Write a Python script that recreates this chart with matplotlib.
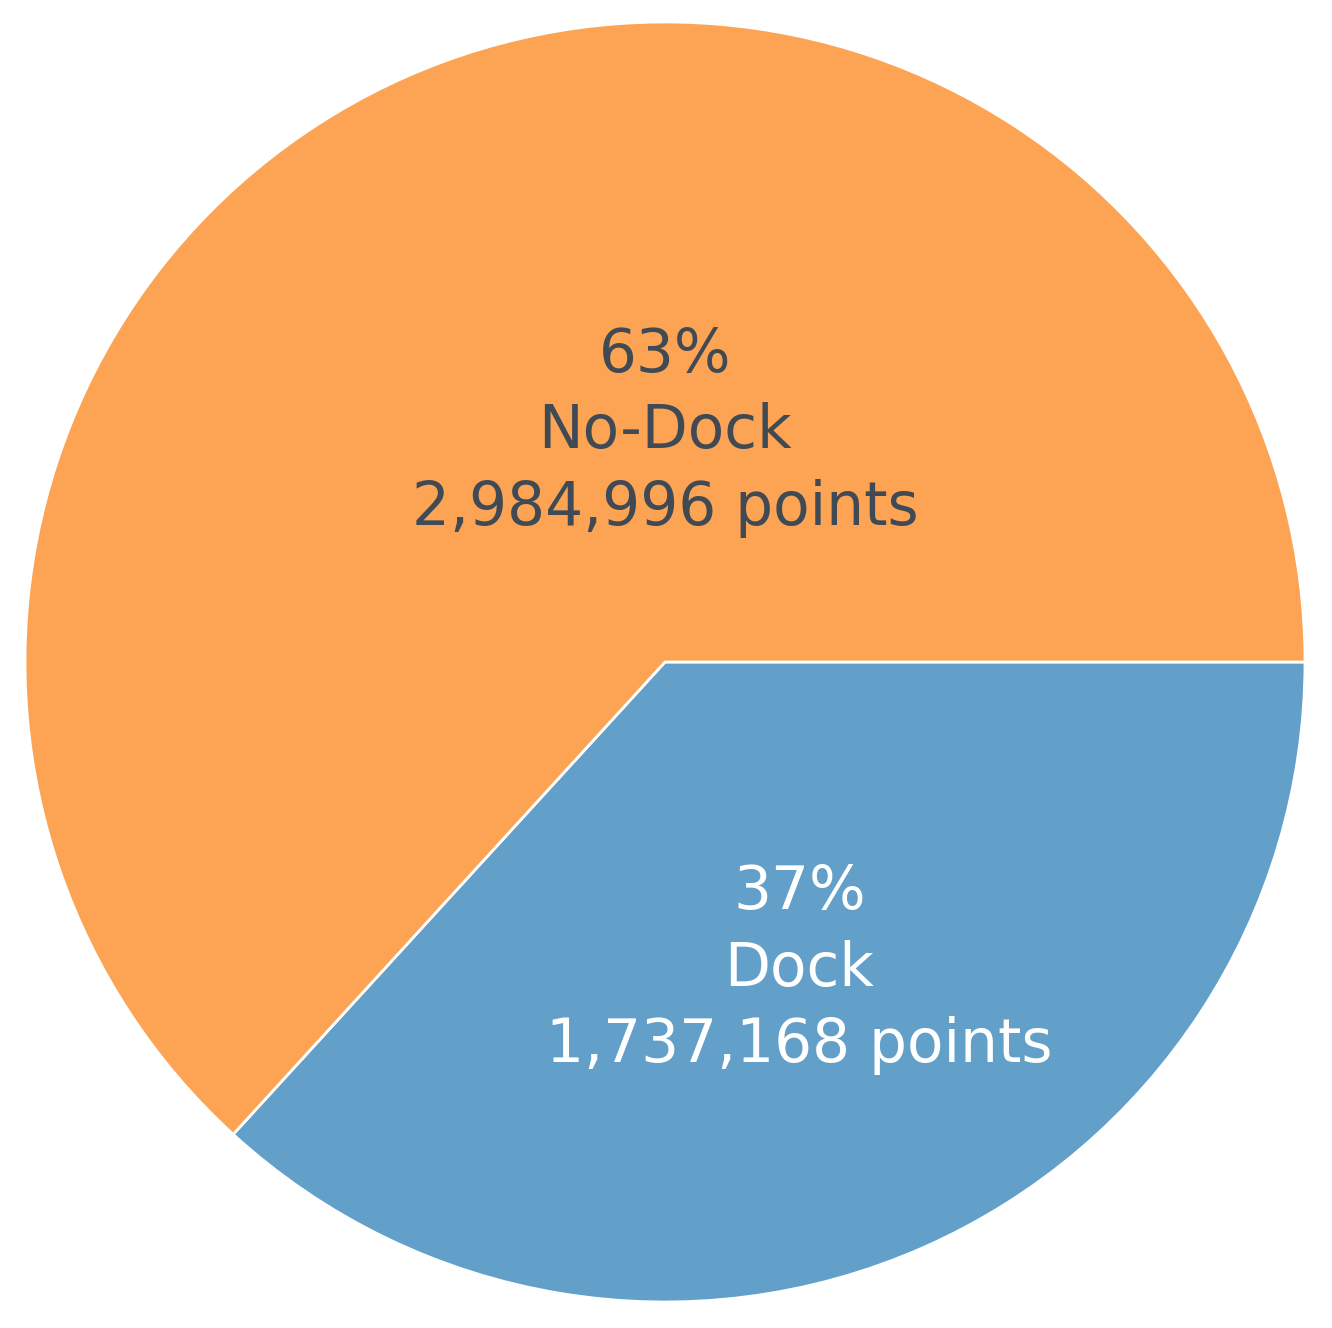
import matplotlib
matplotlib.use("Agg")
import matplotlib.pyplot as plt

labels = ["Dock", "No-Dock"]
values = [1737168, 2984996]
colors = ["#629FC9", "#FDA354"]
text_colors = ["#FFFFFF", "#3F4A55"]

W, H = 1332, 1328
fig = plt.figure(figsize=(W / 100, H / 100), dpi=100)
ax = fig.add_axes([0, 0, 1, 1])
cx, cy, R = 665, 662, 640

wedges, _ = ax.pie(values, colors=colors, startangle=0, counterclock=False,
                   radius=R, center=(0, 0), frame=True,
                   wedgeprops=dict(edgecolor="white", linewidth=2.0))
ax.set_xlim(-cx, W - cx)
ax.set_ylim(-(H - cy), cy)
ax.set_aspect("equal")
ax.axis("off")

total = sum(values)
# label anchor positions (fraction of radius), as in the reference layout
label_pos = [(0.21, -0.48), (0.0, 0.36)]
for lab, v, tc, (px, py) in zip(labels, values, text_colors, label_pos):
    pct = round(100 * v / total)
    ax.text(px * R, py * R, f"{pct}%\n{lab}\n{v:,} points", ha="center", va="center",
            fontsize=43, color=tc, linespacing=1.38, family="DejaVu Sans")

fig.savefig("out.png", dpi=100, facecolor="white")
